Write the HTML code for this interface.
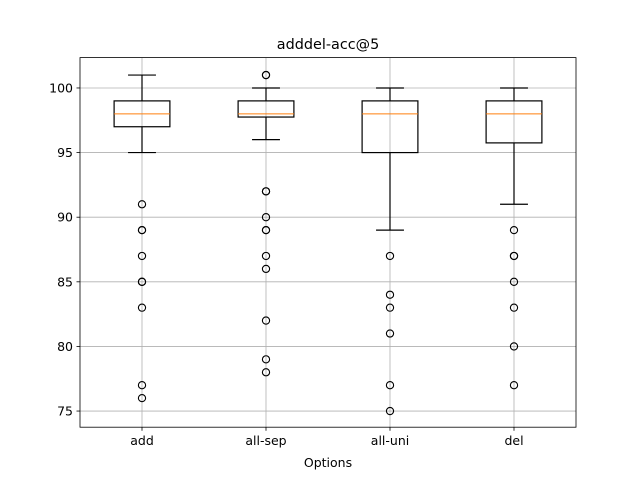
<!DOCTYPE html>
<html><head><meta charset="utf-8"><style>
body{margin:0;background:#fff}
svg text{font-family:"DejaVu Sans","Liberation Sans",sans-serif;fill:#000}
</style></head><body>
<svg id="chart" width="640" height="480" viewBox="0 0 640 480" xmlns="http://www.w3.org/2000/svg">
<rect width="640" height="480" fill="#fff"/>
<g id="grid"></g>
<g id="boxes"></g>
<rect x="80" y="57.6" width="496" height="369.6" fill="none" stroke="#000" stroke-width="0.8"/>
<g id="axes"></g>
<text x="328" y="49" font-size="14.4" text-anchor="middle">adddel-acc@5</text>
<text x="328" y="467" font-size="12.5" text-anchor="middle">Options</text>
</svg>
<script>
const categories=["add","all-sep","all-uni","del"];
const q1=[97,97.75,95,95.75];
const medians=[98,98,98,98];
const q3=[99,99,99,99];
const whiskLo=[95,96,89,91];
const whiskHi=[101,100,100,100];
const outliers=[[91,89,89,87,85,85,83,77,76],[101,101,92,92,90,89,89,87,86,82,79,78],[87,84,83,81,77,75],[89,87,87,85,83,80,77]];
const yTicks=[75,80,85,90,95,100];
const L=80,R=576,T=57.6,B=427.2,yMin=73.75,yMax=102.35;
const x=i=>L+(i+1-0.5)*(R-L)/4;
const y=v=>B-(v-yMin)/(yMax-yMin)*(B-T);
const NS="http://www.w3.org/2000/svg";
function mk(tag,attrs,parent){const e=document.createElementNS(NS,tag);for(const k in attrs)e.setAttribute(k,attrs[k]);document.getElementById(parent).appendChild(e);return e;}
const bw=(R-L)/4*0.45, cw=bw/2;
categories.forEach((c,i)=>{
  let g=mk('line',{x1:x(i),x2:x(i),y1:T,y2:B,stroke:'#b0b0b0','stroke-width':0.8},'grid');
  
  
  let t=mk('line',{x1:x(i),x2:x(i),y1:B,y2:B+3.5,stroke:'#000','stroke-width':0.8},'axes');
  
  
  let lb=mk('text',{x:x(i),y:B+18,'font-size':12.5,'text-anchor':'middle'},'axes');lb.textContent=c;
  
  
  const cx=x(i);
  let box=mk('rect',{x:cx-bw/2,y:y(q3[i]),width:bw,height:y(q1[i])-y(q3[i]),fill:'none',stroke:'#000','stroke-width':1.2},'boxes');
  
  
  let m=mk('line',{x1:cx-bw/2,x2:cx+bw/2,y1:y(medians[i]),y2:y(medians[i]),stroke:'#ff7f0e','stroke-width':1},'boxes');
  
  
  [[q1[i],whiskLo[i]],[q3[i],whiskHi[i]]].forEach(([a,b])=>{
    let w=mk('line',{x1:cx,x2:cx,y1:y(a),y2:y(b),stroke:'#000','stroke-width':1.2},'boxes');
    
    
    let cp=mk('line',{x1:cx-cw/2,x2:cx+cw/2,y1:y(b),y2:y(b),stroke:'#000','stroke-width':1.2},'boxes');
    
    
  });
  outliers[i].forEach(v=>{
    let o=mk('circle',{cx:cx,cy:y(v),r:3.6,fill:'none',stroke:'#000','stroke-width':1.1},'boxes');
    
    
  });
});
yTicks.forEach(v=>{
  let g=mk('line',{x1:L,x2:R,y1:y(v),y2:y(v),stroke:'#b0b0b0','stroke-width':0.8},'grid');
  
  
  let t=mk('line',{x1:L-3.5,x2:L,y1:y(v),y2:y(v),stroke:'#000','stroke-width':0.8},'axes');
  
  
  let lb=mk('text',{x:L-7,y:y(v)+4.5,'font-size':12.5,'text-anchor':'end'},'axes');lb.textContent=v;
  
  
});
</script>
</body></html>
